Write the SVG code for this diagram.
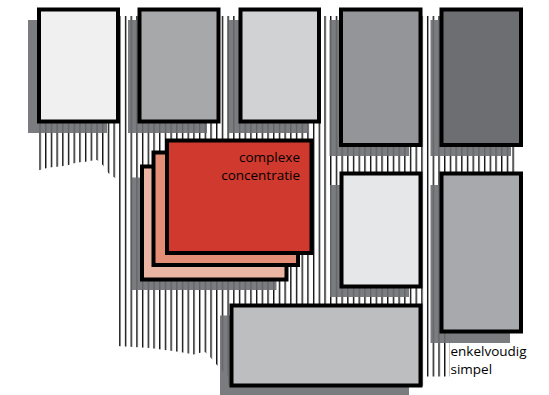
<svg xmlns="http://www.w3.org/2000/svg" width="549" height="395" viewBox="0 0 549 395">
<defs>
<pattern id="hatch" patternUnits="userSpaceOnUse" x="39.35" y="0" width="5.7" height="20">
<rect x="0" y="0" width="1.4" height="20" fill="#111"/>
</pattern>
</defs>
<style>
.sh{fill:#6d6e71;opacity:.9}
.bx{stroke:#000;stroke-width:4}
.lbl{font-family:"Open Sans","Liberation Sans",sans-serif;font-size:13.5px;fill:#000}
</style>
<rect width="549" height="395" fill="#fff"/>
<g id="hatching">
<path fill="url(#hatch)" d="M38,100 H116.5 V178.8 L111,175.5 L108.3,173 L105,168 L102.7,165 L97,160 L91,160.7 L85.7,161.7 L80,162.3 L74,163.3 L68.7,165 L63,166 L57.3,166.7 L51.7,167.3 L46,168.3 L40,170 L38,170.3 Z"/>
<path fill="url(#hatch)" d="M117,16 H516 V330 H450 V376.5 H424 V386 H228 V376 L222,370.5 L216.5,364.5 L210.5,357.5 L205,352 L199,353 L194,354.5 L180,352 L150,348 L117,346 Z"/>
</g>
<g id="connectors"/>
<g id="box1"><rect class="sh" x="28" y="20" width="79" height="113"/><rect class="bx" x="39" y="9.5" width="79" height="112" fill="#f0f0f0"/></g>
<g id="box2"><rect class="sh" x="128" y="20" width="79" height="113"/><rect class="bx" x="139.5" y="9.5" width="79" height="112" fill="#a7a8aa"/></g>
<g id="box3"><rect class="sh" x="229" y="20" width="79" height="113"/><rect class="bx" x="240.5" y="9.5" width="78.5" height="112" fill="#d1d2d4"/></g>
<g id="box4"><rect class="sh" x="329.5" y="20" width="79.5" height="136"/><rect class="bx" x="341" y="9.5" width="79.5" height="135.5" fill="#939598"/></g>
<g id="box5"><rect class="sh" x="430.5" y="20" width="80.5" height="136"/><rect class="bx" x="441.5" y="9.5" width="79.5" height="135.5" fill="#6d6e71"/></g>
<g id="box6"><rect class="sh" x="330" y="185" width="79" height="112"/><rect class="bx" x="341.5" y="173.5" width="79" height="113" fill="#e6e7e8"/></g>
<g id="box7"><rect class="sh" x="430.5" y="185" width="79.5" height="158"/><rect class="bx" x="441.5" y="173.5" width="79.5" height="158" fill="#a7a9ac"/></g>
<g id="box8"><rect class="sh" x="220" y="315.5" width="189" height="80"/><rect class="bx" x="231.5" y="305.5" width="189" height="80" fill="#bcbec0"/></g>
<g id="complex">
<rect class="sh" x="131.5" y="177.5" width="145" height="112.5"/>
<rect class="bx" x="142" y="166.5" width="144.5" height="113" fill="#eab6a3"/>
<rect class="bx" x="153.5" y="152.5" width="144.5" height="112.5" fill="#e58e76"/>
<rect class="bx" x="167" y="140.5" width="144.5" height="112.5" fill="#d0392d"/>
<text class="lbl" x="300" y="161.5" text-anchor="end">complexe</text>
<text class="lbl" x="300" y="180" text-anchor="end">concentratie</text>
</g>
<g id="legend">
<text class="lbl" x="450.5" y="356">enkelvoudig</text>
<text class="lbl" x="450.5" y="374">simpel</text>
</g>
</svg>
